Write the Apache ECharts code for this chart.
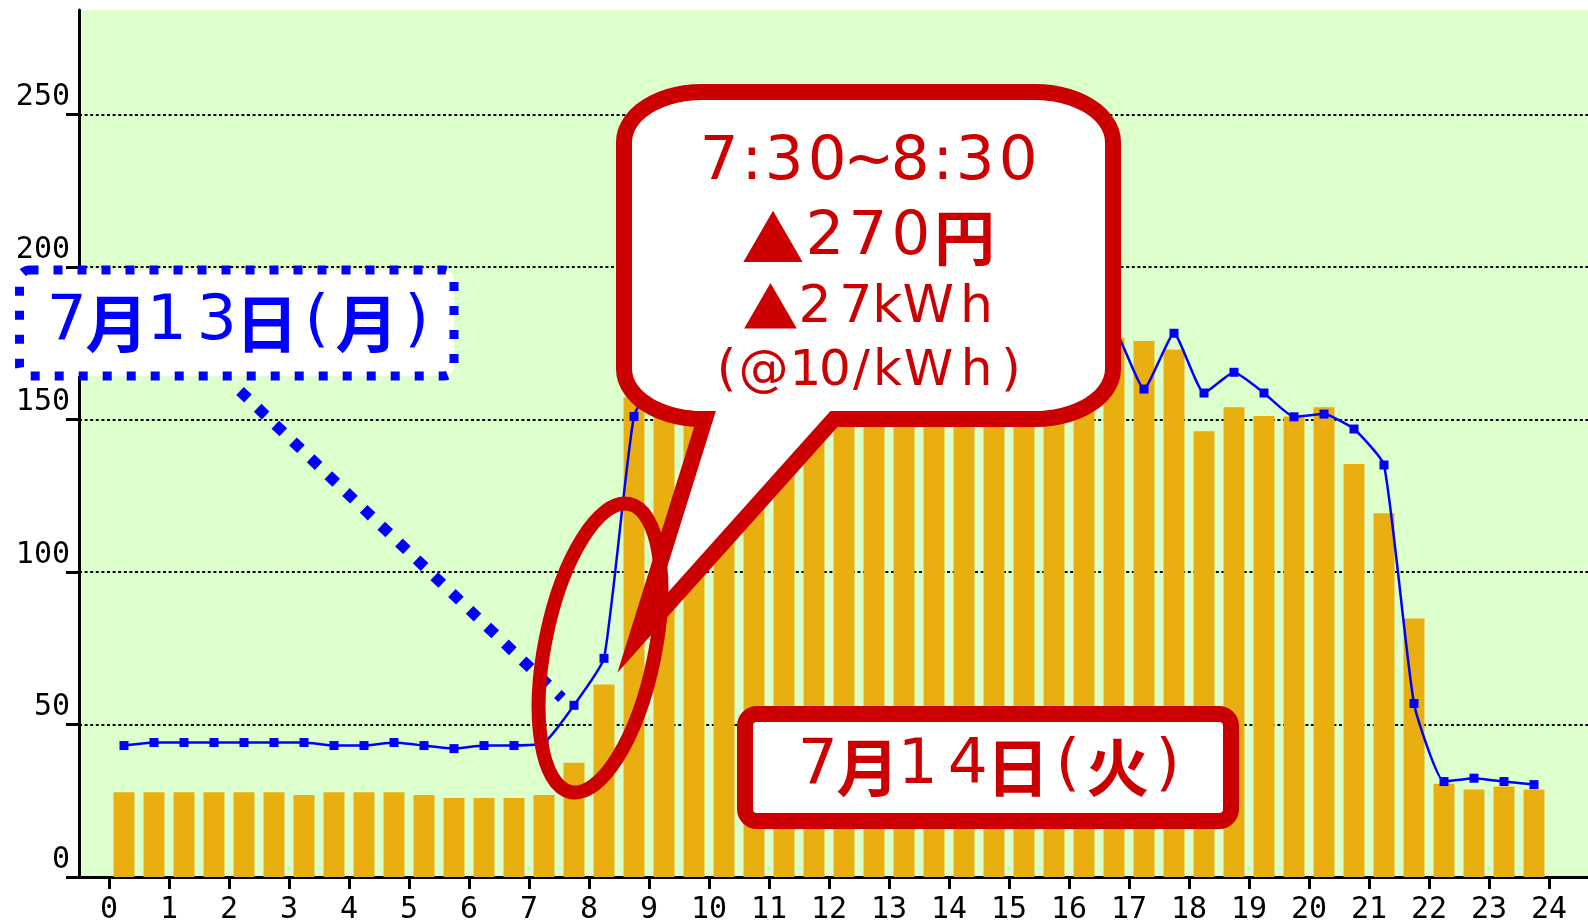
<!DOCTYPE html>
<html>
<head>
<meta charset="utf-8">
<script src="https://cdn.jsdelivr.net/npm/echarts@6/dist/echarts.min.js"></script>
<style>
html,body{margin:0;padding:0;background:#fff;}
#c{width:1588px;height:923px;}
</style>
</head>
<body>
<div id="c"></div>
<script>
// ---- data ----
const slotCenters = [0.25,0.75,1.25,1.75,2.25,2.75,3.25,3.75,4.25,4.75,5.25,5.75,6.25,6.75,7.25,7.75,
  8.25,8.75,9.25,9.75,10.25,10.75,11.25,11.75,12.25,12.75,13.25,13.75,14.25,14.75,15.25,15.75,
  16.25,16.75,17.25,17.75,18.25,18.75,19.25,19.75,20.25,20.75,21.25,21.75,22.25,22.75,23.25,23.75];
// 7/14 (Tue) usage per half hour (bars)
const usageJul14 = [27.8,27.8,27.8,27.8,27.8,27.8,26.9,27.8,27.8,27.8,26.9,25.9,25.9,25.9,26.9,37.5,
  63.1,157.3,165,170,172,174,176,172,168,170,176,178,177,175,174,173,
  175,176.8,175.8,173,146.2,154,151.2,151,154,135.4,119.3,84.8,30.6,28.7,29.7,28.7];
// 7/13 (Mon) usage per half hour (line)
const usageJul13 = [43.1,44.1,44.1,44.1,44.1,44.1,44.1,43.1,43.1,44.1,43.1,42.1,43.1,43.1,44,56.3,
  71.7,151,168,175,178,180,182,178,174,177,183,185,184,182,181,180,
  182,180,160,178.3,158.7,165.5,158.7,150.9,151.8,146.9,135.1,56.9,31.3,32.4,31.3,30.3];
const hourTicks = [0,1,2,3,4,5,6,7,8,9,10,11,12,13,14,15,16,17,18,19,20,21,22,23,24];
const yTicks = [0,50,100,150,200,250];

// ---- annotation texts ----
const RED = '#CC0000', BLUE = '#0000FF';
const JP = '"Noto Sans CJK JP", "Noto Sans CJK SC", sans-serif';
const LAT = '"DejaVu Sans", "Noto Sans", sans-serif';

function isKanji(ch) { return /[\u4e00-\u9fff]/.test(ch); }
function cellText(chars, widths, size) {
  let text = '';
  const rich = {};
  chars.forEach((ch, i) => {
    const name = 't' + i;
    text += '{' + name + '|' + ch + '}';
    let st;
    if (ch === '▲') st = { fontFamily: JP, fontSize: size.tri };
    else if (isKanji(ch)) st = { fontFamily: JP, fontSize: size.kanji || size.base, fontWeight: 'bold' };
    else st = { fontFamily: LAT, fontSize: size.base, fontWeight: 'normal' };
    rich[name] = Object.assign({ width: widths[i], align: 'center', verticalAlign: 'middle' }, st);
  });
  return { text, rich };
}

function textEl(obj, x, y, color, z) {
  Object.keys(obj.rich).forEach(k => { obj.rich[k].fill = color; });
  return { type: 'text', z: z, x: x, y: y, style: { text: obj.text, rich: obj.rich, align: 'center', verticalAlign: 'middle', fill: color } };
}

const line1 = cellText(['7',':','3','0','~','8',':','3','0'], [43,22,43,43,40,43,22,43,43], { base: 61 });
const line2 = cellText(['▲','2','7','0','円'], [61,43,43,43,64], { base: 61, tri: 63 });
const line3 = cellText(['▲','2','7','k','W','h'], [46,43,38.6,24.4,57.6,38.8], { base: 52, tri: 56 });
const line4 = cellText(['(','@','1','0','/','k','W','h',')'], [30,44,40,19,34,18,64,32,37], { base: 50 });
const redLabel = cellText(['7','月','1','4','日','(','火',')'], [50,50,50,50,50,50,50,50], { base: 63 });
const blueLabel = cellText(['7','月','1','3','日','(','月',')'], [50,50,50,50,50,50,50,50], { base: 63 });

// speech bubble outline: rounded rect with elliptical corners + tail, as polygon points
function bubblePoints(L, R, T, B, rx, ry, tailR, tipX, tipY, tailL) {
  const pts = [];
  const N = 14;
  function corner(cx, cy, a0, a1) {
    for (let i = 0; i <= N; i++) {
      const a = a0 + (a1 - a0) * i / N;
      pts.push([cx + rx * Math.cos(a), cy + ry * Math.sin(a)]);
    }
  }
  corner(R - rx, T + ry, -Math.PI / 2, 0);          // top-right
  corner(R - rx, B - ry, 0, Math.PI / 2);           // bottom-right
  pts.push([tailR, B]);
  pts.push([tipX, tipY]);
  pts.push([tailL, B]);
  corner(L + rx, B - ry, Math.PI / 2, Math.PI);     // bottom-left
  corner(L + rx, T + ry, Math.PI, 1.5 * Math.PI);   // top-left
  return pts;
}

const chart = echarts.init(document.getElementById('c'), null, { renderer: 'canvas' });
chart.setOption({
  animation: false,
  backgroundColor: '#ffffff',
  grid: { left: 79, right: 0, top: 10, bottom: 46, show: true, backgroundColor: '#DDFFCC', borderWidth: 0, containLabel: false, outerBoundsMode: 'none' },
  xAxis: {
    type: 'value', min: -0.5, max: 24.65,
    axisLine: { show: true, onZero: false, lineStyle: { color: '#000', width: 3 } },
    axisTick: { show: true, customValues: hourTicks, length: 12, lineStyle: { color: '#000', width: 3 } },
    axisLabel: { show: true, customValues: hourTicks, fontFamily: 'DejaVu Sans Mono', fontSize: 30, color: '#000', margin: 18 },
    splitLine: { show: false }
  },
  yAxis: {
    type: 'value', min: 0, max: 284.3, interval: 50,
    axisLine: { show: true, onZero: false, lineStyle: { color: '#000', width: 3 } },
    axisTick: { show: true, customValues: yTicks, length: 13, lineStyle: { color: '#000', width: 3 } },
    axisLabel: { show: true, customValues: yTicks, fontFamily: 'DejaVu Sans Mono', fontSize: 30, color: '#000', margin: 9, verticalAlign: 'bottom', padding: [0, 0, 2, 0] },
    splitLine: { show: true, showMinLine: false, showMaxLine: true, lineStyle: { color: '#000', width: 2, type: [3, 2.6] } }
  },
  series: [
    {
      type: 'bar', z: 2, barWidth: 21,
      itemStyle: { color: '#E9AF11' },
      data: slotCenters.map((x, i) => [x, usageJul14[i]])
    },
    {
      type: 'line', z: 3, smooth: 0.15,
      symbol: 'rect', symbolSize: 9, showAllSymbol: true,
      lineStyle: { color: BLUE, width: 2.5 },
      itemStyle: { color: BLUE },
      data: slotCenters.map((x, i) => [x, usageJul13[i]])
    }
  ],
  graphic: [
    { type: 'polygon', z: 100, shape: { points: bubblePoints(624, 1113, 92, 419, 78, 50, 834, 636, 640, 705) },
      style: { fill: '#ffffff', stroke: RED, lineWidth: 16, lineJoin: 'miter', miterLimit: 20 } },
    textEl(line1, 868.7, 163, RED, 101),
    textEl(line2, 869.5, 238, RED, 101),
    textEl(line3, 871.7, 308, RED, 101),
    textEl(line4, 870.5, 372, RED, 101),
    { type: 'rect', z: 100, shape: { x: 745, y: 714, width: 486, height: 107, r: 12 },
      style: { fill: '#ffffff', stroke: RED, lineWidth: 16 } },
    textEl(redLabel, 992.75, 767, RED, 101),
    { type: 'rect', z: 100, shape: { x: 19.5, y: 270, width: 434.5, height: 106, r: 10 },
      style: { fill: '#ffffff', stroke: BLUE, lineWidth: 9, lineDash: [9, 15] } },
    textEl(blueLabel, 241.7, 323, BLUE, 101),
    { type: 'line', z: 102, shape: { x1: 240, y1: 391, x2: 562, y2: 698 },
      style: { stroke: BLUE, lineWidth: 11, lineDash: [11, 13.4] } },
    { type: 'ellipse', z: 103, x: 600, y: 648, rotation: -0.2, shape: { cx: 0, cy: 0, rx: 55, ry: 147 },
      style: { fill: 'transparent', stroke: RED, lineWidth: 14 } }
  ]
});
</script>
</body>
</html>
